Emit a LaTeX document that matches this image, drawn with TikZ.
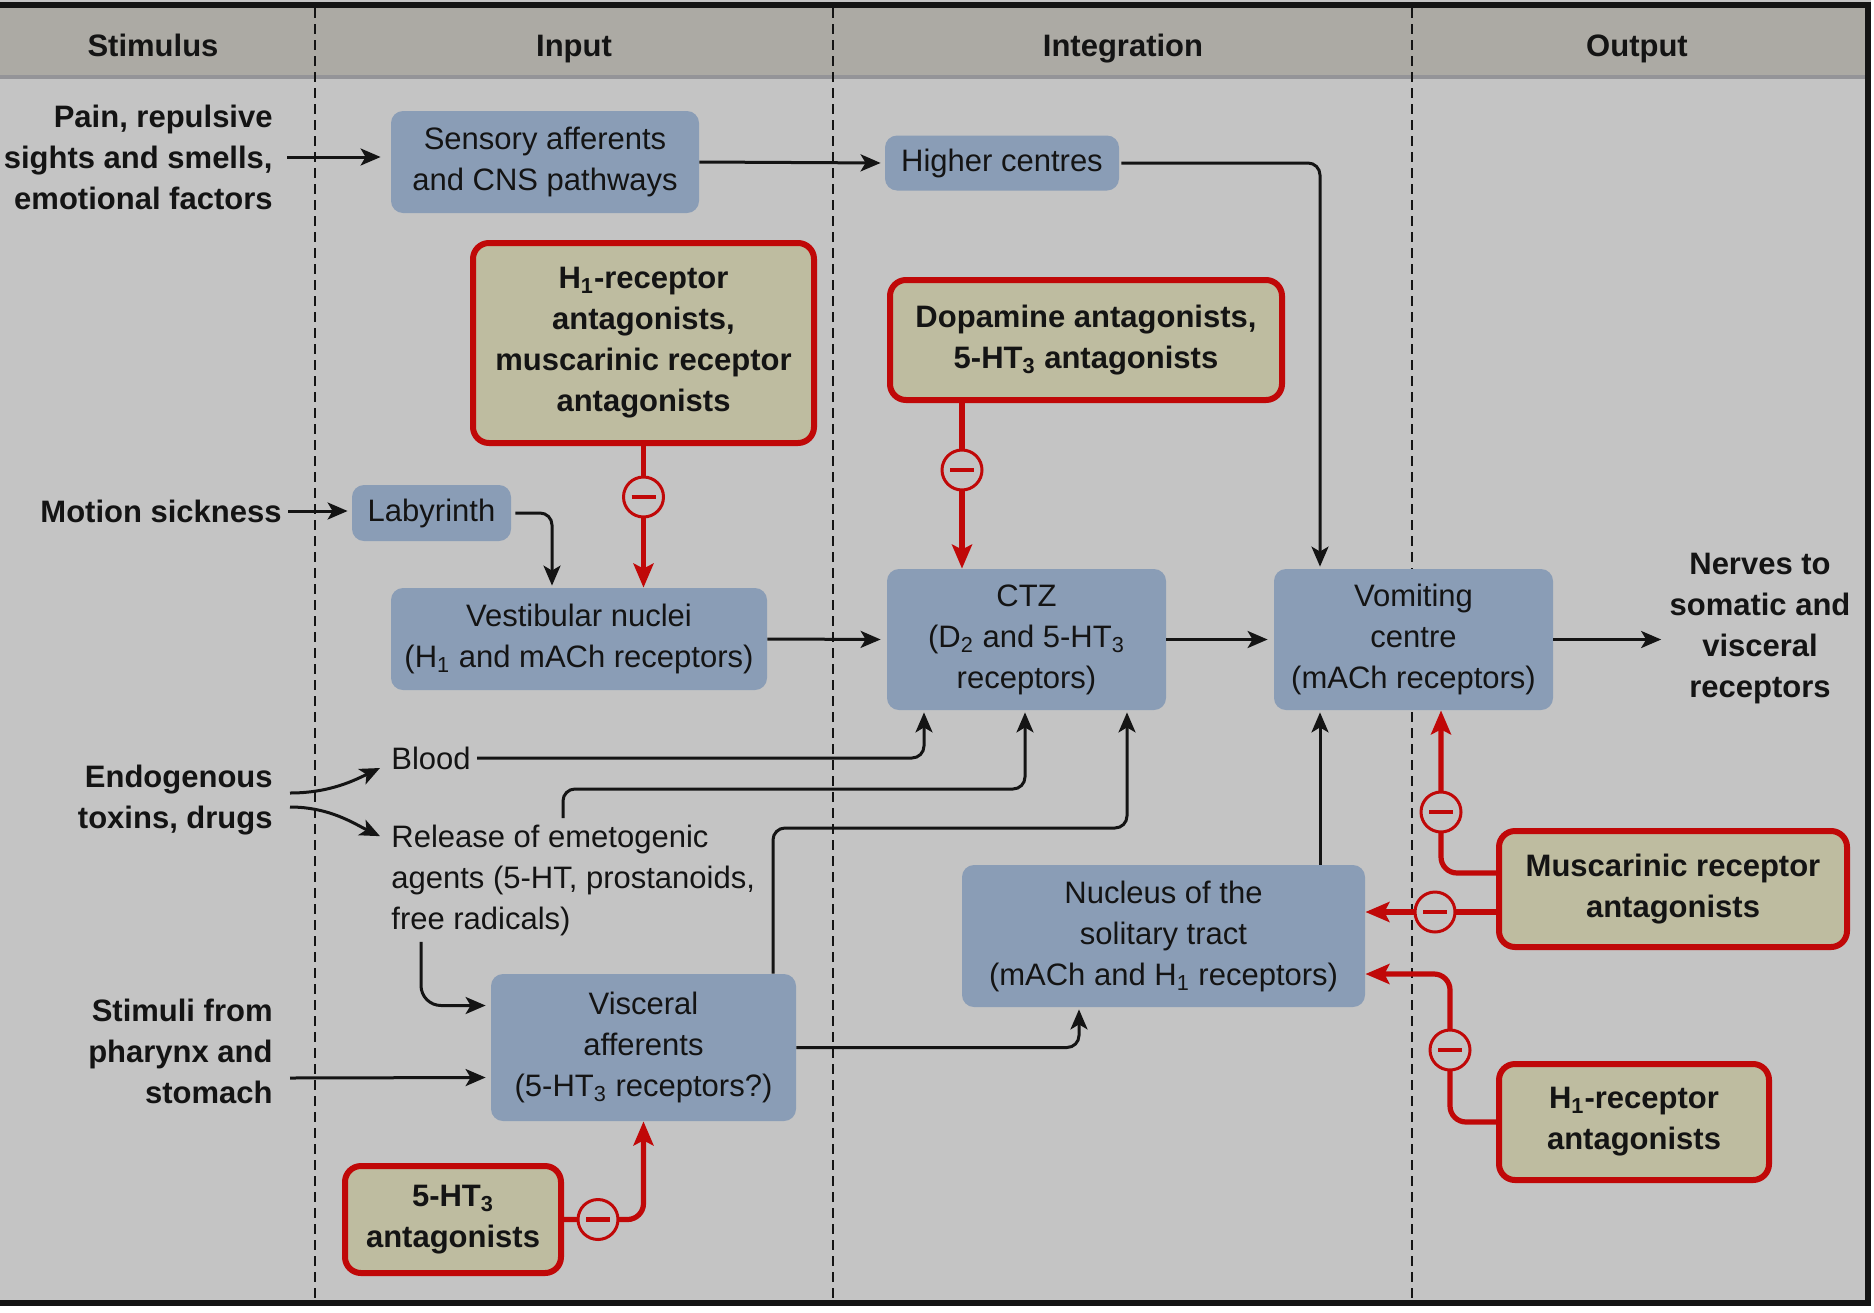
\documentclass[tikz,border=0pt]{standalone}
\usepackage{fontspec}
\setmainfont{Liberation Sans}
\usetikzlibrary{arrows.meta,calc}
\definecolor{bgc}{RGB}{196,196,196}
\definecolor{hdr}{RGB}{172,170,164}
\definecolor{hdrline}{RGB}{148,148,152}
\definecolor{boxb}{RGB}{138,157,182}
\definecolor{tanb}{RGB}{190,188,160}
\definecolor{dred}{RGB}{192,8,8}
\definecolor{ink}{RGB}{20,20,20}
\newcommand\lowidx[1]{\textsubscript{#1}}
\begin{document}
\begin{tikzpicture}[x=0.5pt,y=-0.5pt,
  font=\fontsize{15.5}{20.5}\selectfont, text=ink,
  bbox/.style={fill=boxb, rounded corners=6pt, align=center, inner sep=0pt},
  abox/.style={fill=tanb, draw=dred, line width=3pt, rounded corners=8pt, align=center, inner sep=0pt,
    font=\fontsize{15.5}{20.5}\selectfont\bfseries},
  lbl/.style={align=right, inner sep=0pt, font=\fontsize{15.5}{20.5}\selectfont\bfseries},
  plain/.style={inner sep=0pt},
  hd/.style={inner sep=0pt, anchor=base, font=\fontsize{15.5}{20.5}\selectfont\bfseries},
  conn/.style={draw=ink, line width=1.5pt, -{Stealth[length=10pt,width=8.5pt,inset=2.5pt]}, rounded corners=6pt},
  rconn/.style={draw=dred, line width=2.6pt, -{Stealth[length=12pt,width=10pt,inset=2.5pt]}, rounded corners=8pt},
  mc/.style={circle, draw=dred, line width=1.5pt, fill=bgc, minimum size=20pt, inner sep=0pt,
    path picture={\draw[dred, line width=2.4pt] ([xshift=-6pt]path picture bounding box.center) -- ([xshift=6pt]path picture bounding box.center);}},
  divl/.style={draw=ink, line width=0.9pt, dash pattern=on 5pt off 3pt}
]
\useasboundingbox (0,0) rectangle (1874,1312);
% background and frame
\fill[bgc] (0,0) rectangle (1874,1312);
\fill[hdr] (0,8) rectangle (1868,77);
\draw[hdrline, line width=2pt] (0,77) -- (1868,77);
\draw[divl] (315,8) -- (315,1303);
\draw[divl] (833,8) -- (833,1303);
\draw[divl] (1412,8) -- (1412,1303);
\draw[ink, line width=3pt] (0,5) -- (1868,5) -- (1868,1303) -- (0,1303);
\fill[white] (1871,0) rectangle (1874,1312);
\fill[white] (0,1306) rectangle (1874,1312);

% headers
\node[hd] (hstim) at (153,56) {Stimulus};
\node[hd] (hinp) at (574,56) {Input};
\node[hd] (hint) at (1123,56) {Integration};
\node[hd] (hout) at (1637,56) {Output};

% boxes
\node[bbox, minimum width=154pt, minimum height=51pt] (sens) at (545,162) {Sensory afferents\\and CNS pathways};
\node[bbox, minimum width=117pt, minimum height=27.5pt] (higher) at (1002,163) {Higher centres};
\node[abox, minimum width=170.5pt, minimum height=100pt] (h1a) at (643.5,343) {H\lowidx{1}-receptor\\antagonists,\\muscarinic receptor\\antagonists};
\node[abox, minimum width=196pt, minimum height=60pt] (dopa) at (1086,340) {Dopamine antagonists,\\5-HT\lowidx{3} antagonists};
\node[bbox, minimum width=79.5pt, minimum height=28pt] (lab) at (431.5,513) {Labyrinth};
\node[bbox, minimum width=188pt, minimum height=51pt] (vest) at (579,639) {Vestibular nuclei\\(H\lowidx{1} and mACh receptors)};
\node[bbox, minimum width=139.5pt, minimum height=70.5pt] (ctz) at (1026.5,639.5) {CTZ\\(D\lowidx{2} and 5-HT\lowidx{3}\\receptors)};
\node[bbox, minimum width=139.5pt, minimum height=70.5pt] (vom) at (1413.5,639.5) {Vomiting\\centre\\(mACh receptors)};
\node[bbox, minimum width=152.5pt, minimum height=73.5pt] (visc) at (643.5,1047.5) {Visceral\\afferents\\(5-HT\lowidx{3} receptors?)};
\node[abox, minimum width=108pt, minimum height=53.5pt] (ht3) at (453,1219.5) {5-HT\lowidx{3}\\antagonists};
\node[bbox, minimum width=201.5pt, minimum height=71pt] (nts) at (1163.5,936) {Nucleus of the\\solitary tract\\(mACh and H\lowidx{1} receptors)};
\node[abox, minimum width=174pt, minimum height=58pt] (musc) at (1673,889) {Muscarinic receptor\\antagonists};
\node[abox, minimum width=135pt, minimum height=58pt] (h1b) at (1634,1122) {H\lowidx{1}-receptor\\antagonists};

% text labels
\node[lbl, anchor=east] (pain) at (273,157) {Pain, repulsive\\sights and smells,\\emotional factors};
\node[lbl, anchor=east] (motion) at (282,511) {Motion sickness};
\node[lbl, align=center] (nerves) at (1760,629) {Nerves to\\somatic and\\visceral\\receptors};
\node[lbl, anchor=east] (endo) at (273,800) {Endogenous\\toxins, drugs};
\node[plain, anchor=west] (blood) at (391,758) {Blood};
\node[plain, anchor=west, align=left] (rel) at (391,880) {Release of emetogenic\\agents (5-HT, prostanoids,\\free radicals)};
\node[lbl, anchor=east] (stim) at (273,1051) {Stimuli from\\pharynx and\\stomach};

% black connectors
\draw[conn, shorten <=7pt, shorten >=5pt] (pain.east) -- (pain.east -| sens.west);
\draw[conn, shorten >=2pt] (sens.east) -- (higher.west);
\draw[conn, shorten <=1pt, shorten >=1pt] (higher.east) -| (1320,0 |- vom.north);
\draw[conn, shorten <=3pt, shorten >=2pt] (motion.east) -- (motion.east -| lab.west);
\draw[conn, shorten <=2pt, shorten >=1pt] (lab.east) -| (552,0 |- vest.north);
\draw[conn, shorten >=3pt] (vest.east) -- (ctz.west);
\draw[conn, shorten >=3pt] (ctz.east) -- (vom.west);
\draw[conn, shorten >=4pt] (vom.east) -- (vom.east -| nerves.west);
\draw[conn] ($(endo.east)+(17,-7)$) .. controls +(40,0) and +(-25,12) .. ($(blood.west)+(-11,10)$);
\draw[conn] ($(endo.east)+(17,7)$) .. controls +(40,0) and +(-25,-12) .. ($(rel.north west)+(-11,12)$);
\draw[conn, shorten <=3pt, shorten >=1pt] (blood.east) -| (924,0 |- ctz.south);
\draw[conn, shorten <=3pt, shorten >=1pt] (563,0 |- rel.north) |- (1025,789) -- (1025,0 |- ctz.south);
\draw[conn, shorten >=1pt] (773,0 |- visc.north) |- (1127,828) -- (1127,0 |- ctz.south);
\draw[conn, rounded corners=10pt, shorten <=3pt] (421,0 |- rel.south) |- ($(visc.west)+(-5,-42)$);
\draw[conn, shorten >=0pt] ($(stim.east)+(17,27)$) -- ($(visc.west)+(-5,30)$);
\draw[conn, shorten >=1pt] (visc.east) -| (1079,0 |- nts.south);
\draw[conn, shorten >=1pt] (1320,0 |- nts.north) -- (1320,0 |- vom.south);

% red inhibitory connectors
\draw[rconn] (h1a.south) -- (h1a.south |- vest.north);
\node[mc] (m1) at ($(h1a.south)+(0,51)$) {};
\draw[rconn] (962,0 |- dopa.south) -- (962,0 |- ctz.north);
\node[mc] (m2) at (962,470) {};
\draw[rconn] (ht3.east) -| (visc.south);
\node[mc] (m3) at ($(ht3.east)+(34,0)$) {};
\draw[rconn] ($(musc.west)+(0,-16)$) -| (1441,0 |- vom.south);
\node[mc] (m4) at (1441,812) {};
\draw[rconn] ($(musc.west)+(0,23)$) -- (nts.east |- 0,912);
\node[mc] (m5) at (1435,912) {};
\draw[rconn] (h1b.west) -| (1450,974) -- (nts.east |- 0,974);
\node[mc] (m6) at (1450,1050) {};
\end{tikzpicture}
\end{document}
